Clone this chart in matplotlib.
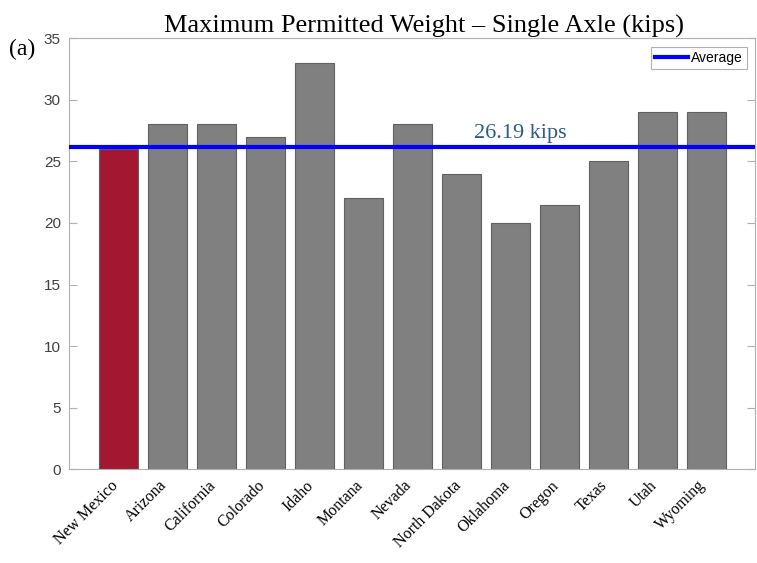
import matplotlib
matplotlib.use("Agg")
import matplotlib.pyplot as plt
import numpy as np

states = ["New Mexico", "Arizona", "California", "Colorado", "Idaho", "Montana",
          "Nevada", "North Dakota", "Oklahoma", "Oregon", "Texas", "Utah", "Wyoming"]
weights = [26, 28, 28, 27, 33, 22, 28, 24, 20, 21.5, 25, 29, 29]
y_ticks = [0, 5, 10, 15, 20, 25, 30, 35]

average = float(np.mean(weights))

fig = plt.figure(figsize=(7.57, 5.63), dpi=100)
ax = fig.add_axes([0.0915, 0.1665, 0.906, 0.7655])

x = np.arange(1, len(states) + 1)
colors = ["#a31830"] + ["#808080"] * (len(states) - 1)
ax.bar(x, weights, width=0.8, color=colors, edgecolor="#606060", linewidth=0.8, zorder=2)

ax.axhline(average, color="#0000ff", linewidth=3, label="Average", zorder=3)
ax.text(9.2, average + 0.3, f"{average:.2f} kips", family="Liberation Serif",
        fontsize=16, color="#2b5a8c", ha="center", va="bottom")

ax.set_xlim(0, 14)
ax.set_ylim(0, 35)
ax.set_yticks(y_ticks)
ax.set_xticks(x)
ax.set_xticklabels([])
# slanted state names, right end placed just under each bar centre
for xi, name in zip(x, states):
    ax.annotate(name, xy=(xi, 0), xycoords=("data", "axes fraction"),
                xytext=(-2, -10), textcoords="offset points",
                rotation=45, ha="right", va="center", rotation_mode="anchor",
                family="Liberation Serif", fontsize=11.5)
for lbl in ax.get_yticklabels():
    lbl.set_family("Liberation Sans")
    lbl.set_fontsize(11)
    lbl.set_color("#404040")

for sp in ax.spines.values():
    sp.set_color("#b0b0b0")
    sp.set_linewidth(0.8)
ax.tick_params(axis="y", which="both", right=True, direction="in", length=6,
               color="#b0b0b0", pad=6)
ax.tick_params(axis="x", direction="in", length=0)

ax.set_title("Maximum Permitted Weight \u2013 Single Axle (kips)",
             family="Liberation Serif", fontsize=19, pad=3, x=0.517)
fig.text(0.012, 0.912, "(a)", family="Liberation Serif", fontsize=17, va="center")

leg = ax.legend(loc="upper right", prop={"family": "Liberation Sans", "size": 10},
                handlelength=2.4, handletextpad=0.2, borderpad=0.3,
                fancybox=False, framealpha=1, borderaxespad=0.6)
leg.get_frame().set_edgecolor("#b0b0b0")
leg.get_frame().set_linewidth(0.8)

fig.savefig("out.png", dpi=100)
